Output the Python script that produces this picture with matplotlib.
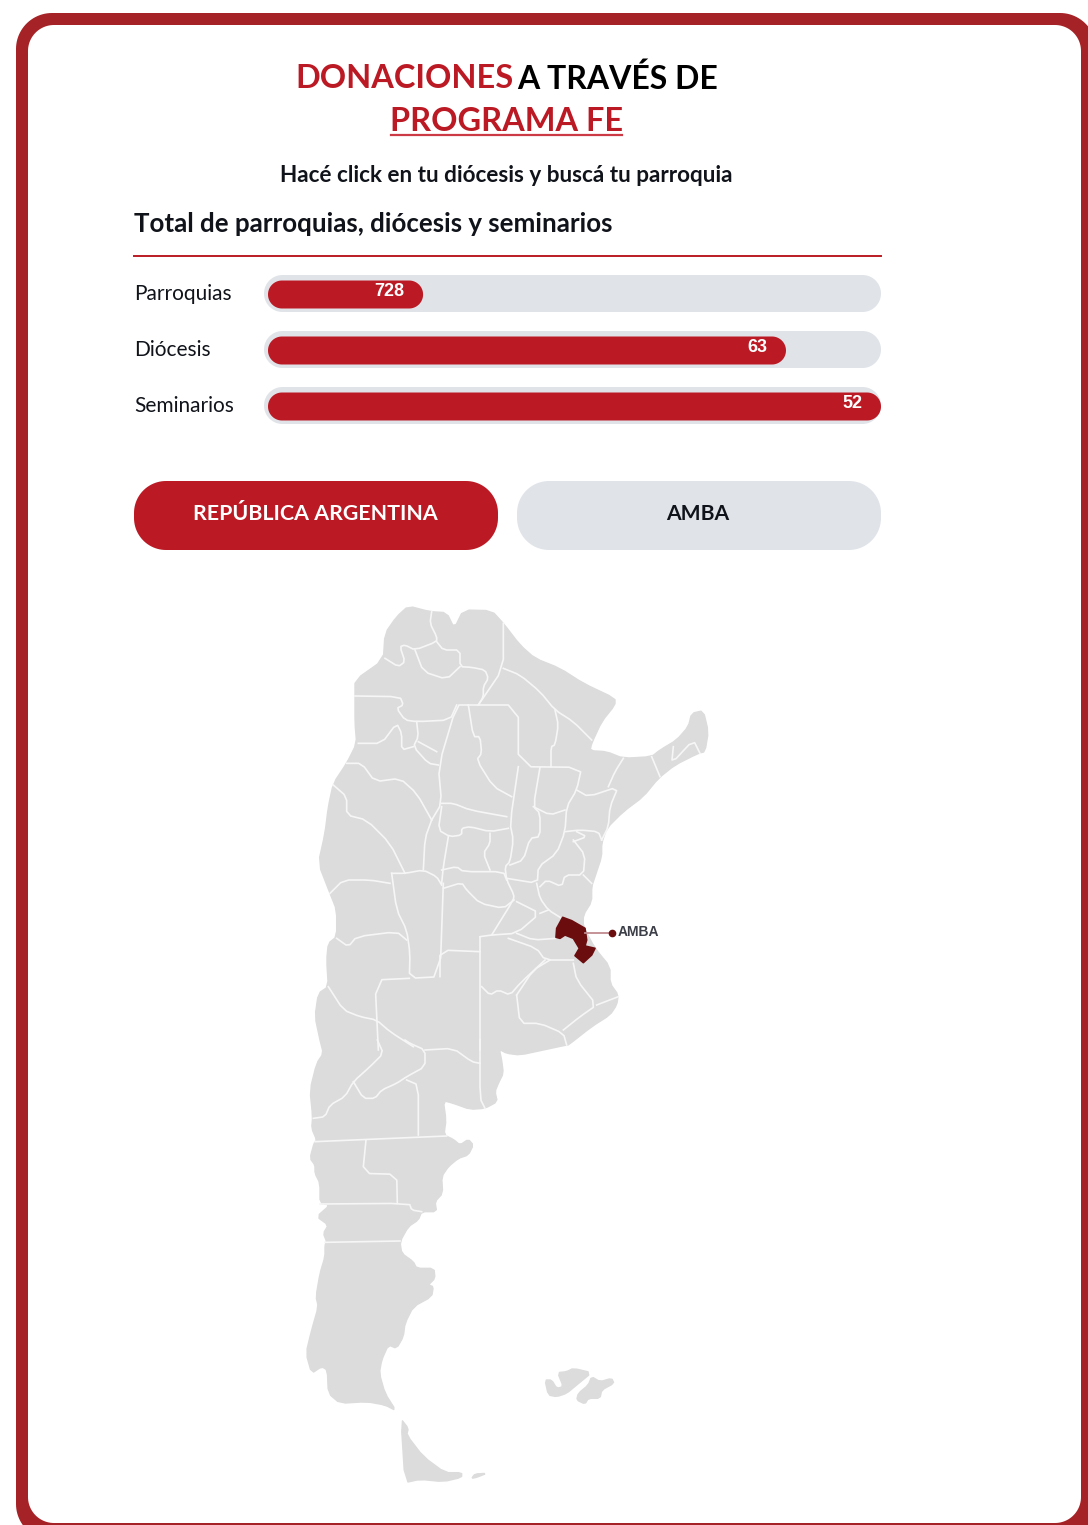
import matplotlib
matplotlib.use("Agg")
import matplotlib.pyplot as plt
import numpy as np
from matplotlib.patches import Polygon

RED = "#bb1a24"
FRAME = "#a52226"
TRACK = "#e0e4e9"
LAND = "#dcdcdc"
DARK = "#6b0d0f"
INK = "#10131a"
FONT = "Lato"

bar_names = ["Parroquias", "Diócesis", "Seminarios"]
bar_labels = ["728", "63", "52"]
bar_shares = [0.253, 0.845, 1.0]
bar_tops = [275, 331, 387]

# map shapes, z1 = upper crop, z2 = lower crop
outline_north = [(355,48),(420,65),(470,68),(493,115),(520,60),(605,62),(640,100),(690,165),(735,205),(810,235),
    (880,280),(975,325),(975,345),(935,395),(905,460),(900,482),(950,485),(1000,505),(1085,500),(1110,480),
    (1160,450),(1195,410),(1205,370),(1240,362),(1255,425),(1245,485),(1225,490),(1155,525),(1105,565),(1060,620),
    (1000,665),(950,715),(935,760),(935,800),(915,860),(905,890),(905,935),(880,975),(880,1010),(915,1075),
    (960,1130),(960,1180),(985,1215),(980,1245),(960,1275),(905,1310),(835,1365)]
outline_south = [(830,15),(760,30),(690,45),(650,40),(628,28),(635,60),(640,100),(625,130),(615,155),(622,185),
    (585,205),(540,208),(490,190),(460,182),(468,240),(462,285),(490,298),(510,315),(535,298),(550,315),
    (535,345),(505,355),(475,380),(455,410),(458,460),(435,485),(440,515),(395,515),(385,540),(355,560),
    (330,605),(335,640),(370,665),(380,685),(432,685),(435,715),(415,735),(430,740),(425,770),(370,800),
    (345,850),(340,890),(320,925),(295,915),(275,960),(268,1000),(285,1060),(318,1112),(285,1095),(230,1085),
    (150,1090),(115,1060),(112,990),(95,980),(65,1000),(48,940),(65,870),(85,800),(78,770),(90,700),
    (105,650),(105,615),(110,605),(100,580),(115,555),(80,530),(120,495),(90,490),(90,430),(75,400),
    (75,375),(60,355),(72,310),(80,300),(65,265),(68,230),(60,150),(80,70),(100,40),(90,0)]
outline_west = [(90,1350),(75,1280),(85,1210),(115,1190),(110,1110),(115,1060),(140,1040),(140,960),(120,910),(85,820),
    (105,730),(115,650),(130,580),(170,520),(200,460),(195,400),(195,320),(195,270),(280,210),(285,130),(320,80)]
fuego = [(333,1137),(355,1165),(350,1185),(400,1250),(465,1298),(515,1298),(515,1312),(460,1325),(390,1318),(345,1328)]
estados = [(545,1315),(555,1302),(590,1300),(560,1312)]
malvinas_w = [(765,1020),(785,1020),(800,1045),(820,1040),(803,998),(830,995),(850,985),(905,998),(860,1035),(830,1060),(800,1070),(775,1065)]
malvinas_e = [(905,1010),(930,1025),(965,1015),(972,1030),(935,1050),(930,1075),(895,1075),(885,1092),(860,1080),(865,1060),(895,1035)]
amba = [(818,982),(845,992),(885,1015),(890,1050),(885,1068),(915,1075),(905,1095),(880,1118),(855,1097),(868,1075),(850,1045),(825,1035),(810,1045),(798,1042),(800,1015)]

borders_z1 = [
    [(425,65),(420,100),(440,140),(440,155),(375,180),(345,165),(330,170),(345,215),(325,230),(285,205)],
    [(440,155),(460,180),(510,180),(510,230),(545,232),(585,240),(595,265),(580,290),(580,320),(565,345)],
    [(375,180),(400,245),(470,268),(510,230)],
    [(640,100),(640,235),(565,345)],
    [(640,235),(690,255),(750,305),(795,360),(850,395),(905,450)],
    [(795,360),(805,405),(795,465),(783,470),(783,530)],
    [(535,345),(685,345),(685,530),(875,532),(860,600),(830,650),(825,725),(800,790),(745,830),(742,880),(650,865)],
    [(685,530),(660,700),(670,750),(660,815),(645,830),(650,870),(672,915),(670,930),(605,1035)],
    [(750,532),(730,650),(750,670),(750,740),(720,745),(700,810),(660,825)],
    [(730,650),(780,675),(825,660)],
    [(740,880),(750,925),(775,960),(815,985)],
    [(860,600),(895,620),(985,590),(960,650),(955,710),(935,750)],
    [(1000,505),(975,545),(955,590)],
    [(1085,500),(1110,560)],
    [(1150,470),(1145,520),(1210,450),(1230,490)],
    [(825,725),(870,720),(925,725),(935,750)],
    [(850,750),(885,795),(880,855),(825,855),(815,890),(770,870),(750,890)],
    [(860,725),(890,740),(850,755)],
    [(880,855),(905,880)],
    [(535,345),(500,345),(445,530),(455,640),(425,690)],
    [(535,345),(550,440),(570,440),(575,490),(560,510),(610,590),(665,620)],
    [(455,640),(490,640),(540,660),(650,680)],
    [(455,650),(445,720),(480,740),(515,735),(515,715),(540,710),(600,725),(655,715)],
    [(600,730),(600,760),(580,790),(600,840)],
    [(475,740),(460,830),(455,880)],
    [(425,690),(405,745),(400,840)],
    [(425,690),(380,610),(330,565),(255,575),(215,520),(170,520)],
    [(130,585),(170,620),(170,675),(230,690),(300,760),(345,850)],
    [(305,850),(345,850),(400,840),(440,860),(455,885)],
    [(305,850),(320,960),(350,1020),(360,1090),(358,1165),(450,1160),(460,880)],
    [(455,840),(500,830),(520,845),(640,845),(650,870)],
    [(460,895),(515,878),(530,900),(570,940),(640,955),(672,930)],
    [(450,1160),(450,1080),(570,1085)],
    [(570,1040),(570,1380)],
    [(358,1165),(255,1170),(265,1380)],
    [(570,1040),(605,1035),(680,1030),(750,970),(680,935)],
    [(750,970),(775,960)],
    [(680,1030),(730,1050),(800,1045)],
    [(655,1045),(740,1075),(765,1110),(850,1110)],
    [(765,1110),(690,1180),(660,1215),(625,1200),(600,1215),(575,1190)],
    [(680,1215),(690,1300),(750,1300),(820,1330),(830,1365)],
    [(680,1215),(730,1140),(780,1110)],
    [(850,1120),(860,1170),(920,1245),(870,1280),(820,1320)],
    [(920,1245),(985,1220)],
    [(140,1045),(175,1070),(200,1040),(320,1025),(350,1050)],
    [(120,910),(160,870),(240,870),(300,880)],
    [(115,1190),(160,1260),(210,1280),(260,1290),(300,1325),(370,1370)],
    [(195,318),(330,320),(340,345),(320,355),(345,390),(380,395),(480,390),(500,345)],
    [(380,395),(385,440),(370,470),(415,520),(445,525)],
    [(205,460),(275,460),(320,400),(335,430),(335,480),(370,470)],
    [(385,455),(440,485)],
]
borders_z2 = [
    [(262,0),(280,40),(240,80),(190,125),(165,170),(120,195),(105,230),(70,235)],
    [(190,125),(220,175),(255,175),(275,150),(320,130),(350,110),(405,80),(405,30),(360,10),(345,0)],
    [(405,30),(490,25),(545,65),(570,70)],
    [(570,0),(570,175),(585,205)],
    [(350,120),(385,135),(385,285)],
    [(75,305),(470,288)],
    [(228,300),(218,400),(320,403),(322,490)],
    [(90,492),(358,490),(365,510),(395,515)],
    [(105,607),(330,603)],
]


def z1(pts):
    return [(290 + x / 3, 590 + y / 3) for x, y in pts]


def z2(pts):
    return [(290 + x / 3, 1040 + y / 3) for x, y in pts]


def soften(pts, closed=True):
    # corner cutting so the traced outlines lose their hard angles
    p = np.array(pts, dtype=float)
    a = p if closed else p[:-1]
    b = np.roll(p, -1, axis=0) if closed else p[1:]
    cut = np.empty((len(a) * 2, 2))
    cut[0::2] = 0.8 * a + 0.2 * b
    cut[1::2] = 0.2 * a + 0.8 * b
    if not closed:
        cut = np.vstack([p[0], cut, p[-1]])
    return cut


def pill(ax, x0, x1, y0, y1, color, r=None, z=2):
    if r is None:
        r = (y1 - y0) / 2
    t = np.linspace(0, np.pi / 2, 24)
    xs = np.r_[x1 - r + r * np.cos(t), x0 + r - r * np.sin(t), x0 + r - r * np.cos(t), x1 - r + r * np.sin(t)]
    ys = np.r_[y1 - r + r * np.sin(t), y1 - r + r * np.cos(t), y0 + r - r * np.sin(t), y0 + r - r * np.cos(t)]
    ax.add_patch(Polygon(np.c_[xs, ys], closed=True, fc=color, ec="none", zorder=z))


fig = plt.figure(figsize=(10.88, 15.25), dpi=100)
ax = fig.add_axes([0, 0, 1, 1])
ax.set_xlim(0, 1088)
ax.set_ylim(1525, 0)
ax.axis("off")

# card frame, runs off the right and bottom edges
pill(ax, 16, 1096, 13, 1540, FRAME, r=36, z=1)
pill(ax, 28, 1081, 25, 1523, "white", r=26, z=1.5)

ax.text(295, 78.5, "DONACIONES", color=RED, fontsize=23.4, fontweight="bold", family=FONT, ha="left", va="center")
ax.text(718, 78.5, "A TRAVÉS DE", color="black", fontsize=23.0, fontweight="bold", family=FONT, ha="right", va="center")
ax.text(506.5, 121.5, "PROGRAMA FE", color=RED, fontsize=23.4, fontweight="bold", family=FONT, ha="center", va="center")
ax.plot([391, 622], [134.5, 134.5], color="#cc3a45", lw=1.6, zorder=3)
ax.text(506.5, 175.5, "Hacé click en tu diócesis y buscá tu parroquia", color=INK, fontsize=16.2, fontweight="bold",
        family=FONT, ha="center", va="center")
ax.text(134, 224.5, "Total de parroquias, diócesis y seminarios", color=INK, fontsize=18.6, fontweight="bold",
        family=FONT, ha="left", va="center")
ax.plot([134, 881], [255.5, 255.5], color=RED, lw=1.4, zorder=3)

for name, label, share, top in zip(bar_names, bar_labels, bar_shares, bar_tops):
    pill(ax, 264, 881, top, top + 37, TRACK)
    end = 268 + share * (881 - 268)
    pill(ax, 268, end, top + 5.5, top + 33.5, RED, z=3)
    ax.text(end - 18.5, top + 16, label, color="white", fontsize=13, fontweight="bold",
            family="Liberation Sans", ha="right", va="center", zorder=4)
    ax.text(134, top + 19, name, color=INK, fontsize=15, family=FONT, ha="left", va="center")

pill(ax, 134, 498, 481, 550, RED, r=32)
pill(ax, 517, 881, 481, 550, TRACK, r=32)
ax.text(315.5, 513.5, "REPÚBLICA ARGENTINA", color="white", fontsize=15.4, fontweight="bold", family=FONT,
        ha="center", va="center", zorder=4)
ax.text(698, 513.5, "AMBA", color=INK, fontsize=15.2, fontweight="bold", family=FONT, ha="center", va="center", zorder=4)

# map
main_land = z1(outline_north) + z2(outline_south) + z1(outline_west)
for shape in [main_land, z2(fuego), z2(estados), z2(malvinas_w), z2(malvinas_e)]:
    ax.add_patch(Polygon(soften(shape), closed=True, fc=LAND, ec=LAND, lw=1, joinstyle="round", zorder=2))
for line in borders_z1:
    pts = soften(z1(line), closed=False)
    ax.plot(pts[:, 0], pts[:, 1], color="#f6f6f6", lw=1.2, solid_joinstyle="round", zorder=3)
for line in borders_z2:
    pts = soften(z2(line), closed=False)
    ax.plot(pts[:, 0], pts[:, 1], color="#f6f6f6", lw=1.2, solid_joinstyle="round", zorder=3)
ax.add_patch(Polygon(z1(amba), closed=True, fc=DARK, ec=DARK, lw=1.2, joinstyle="round", zorder=4))
ax.plot([585, 612], [932.5, 932.5], color="#c08a90", lw=1.3, zorder=4)
ax.plot([612], [932.5], "o", color=DARK, ms=4.5, zorder=5)
ax.text(618, 932.5, "AMBA", color="#3c3f48", fontsize=10, fontweight="bold", family="Liberation Sans",
        ha="left", va="center", zorder=5)

fig.savefig("out.png", dpi=100)
